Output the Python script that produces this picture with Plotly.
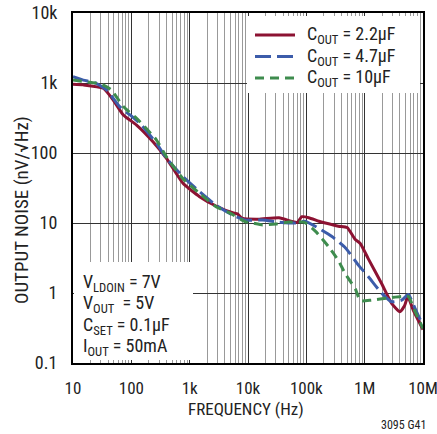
import plotly.graph_objects as go

# ---- data ----
f_22 = [10, 15, 33, 49, 73, 123, 235, 400, 767, 1480, 2830, 5460, 6600, 7900, 15000, 34000,
        57000, 70000, 84000, 110000, 164000, 212000, 355000, 500000, 690000, 840000,
        1150000, 1940000, 2900000, 4000000, 4800000, 5500000, 6800000, 10000000]
n_22 = [960, 940, 840, 571, 349, 251, 145, 84, 37, 23.8, 17.5, 14, 13.5, 11.7, 11.3, 11.9,
        10.5, 10.2, 12.3, 11.9, 10.6, 10.0, 9.0, 8.6, 5.8, 5.1,
        3.1, 1.38, 0.71, 0.54, 0.65, 0.89, 0.57, 0.3]

f_47 = [10, 15, 25, 38, 63, 95, 141, 270, 400, 767, 1480, 2830, 5460, 9100, 17700, 34000,
        65000, 95000, 163000, 275000, 470000, 780000, 1150000, 1940000, 2900000, 4300000,
        5600000, 7200000, 10000000]
n_47 = [1230, 1100, 990, 790, 460, 350, 263, 137, 84, 46, 28, 18, 13, 11, 11, 10.3,
        10.0, 10.6, 8.4, 6.4, 4.4, 2.5, 1.72, 1.0, 0.75, 0.79,
        0.95, 0.62, 0.34]

f_10 = [10, 13, 30, 45, 73, 123, 270, 400, 767, 1480, 2830, 5000, 9100, 12000, 17700, 30000,
        50000, 91000, 144000, 240000, 355000, 470000, 690000, 840000, 1300000, 2600000,
        4300000, 5600000, 7200000, 10000000]
n_10 = [1100, 1070, 970, 800, 460, 313, 153, 88, 43, 26.5, 17.1, 13.7, 10.4, 10, 9.4, 9.7,
        10.3, 10.3, 7.6, 4.6, 2.9, 1.85, 1.15, 0.78, 0.79, 0.85,
        0.89, 0.89, 0.56, 0.31]

series_names = ["C<sub>OUT</sub> = 2.2µF", "C<sub>OUT</sub> = 4.7µF", "C<sub>OUT</sub> = 10µF"]

x_tickvals = [10, 100, 1e3, 1e4, 1e5, 1e6, 1e7]
x_ticktext = ["10", "100", "1k", "10k", "100k", "1M", "10M"]
y_tickvals = [0.1, 1, 10, 100, 1000, 10000]
y_ticktext = ["0.1", "1", "10", "100", "1k", "10k"]

cond_lines = ["V<sub>LDOIN</sub> = 7V", "V<sub>OUT</sub>\u00a0 = 5V",
              "C<sub>SET</sub> = 0.1µF", "I<sub>OUT</sub> = 50mA"]

FONT = "Roboto Condensed, Liberation Sans, Arial, sans-serif"
TXT = "#222"
RED, BLUE, GREEN = "#8C1232", "#3C5CAA", "#3E8C4E"
colors = [RED, BLUE, GREEN]
dashes = ["solid", "16px,6px", "9px,6px"]

fig = go.Figure()
for fx, ny, nm, c, d in zip([f_22, f_47, f_10], [n_22, n_47, n_10], series_names, colors, dashes):
    fig.add_trace(go.Scatter(x=fx, y=ny, mode="lines", name=nm, showlegend=False,
                             line=dict(color=c, width=3, dash=d, shape="spline", smoothing=0.5)))

L, R, T, B = 73, 14, 13, 71
W, H = 437, 434
pw, ph = W - L - R, H - T - B

def px(x):
    return (x - L) / pw

def py(y):
    return (H - B - y) / ph

# legend box (drawn manually for exact placement)
fig.add_shape(type="rect", xref="paper", yref="paper", x0=px(247), x1=px(420), y0=py(93), y1=py(16),
              fillcolor="white", line=dict(width=0), layer="above")
for i, (nm, c, d) in enumerate(zip(series_names, colors, dashes)):
    yy = py(35 + i * 21.5)
    fig.add_shape(type="line", xref="paper", yref="paper", x0=px(255), x1=px(295), y0=yy, y1=yy,
                  line=dict(color=c, width=3, dash=d), layer="above")
    fig.add_annotation(text=nm, xref="paper", yref="paper", x=px(305), y=yy,
                       xanchor="left", yanchor="middle", showarrow=False,
                       font=dict(family=FONT, size=18, color=TXT))

# conditions box
fig.add_shape(type="rect", xref="paper", yref="paper", x0=px(74), x1=px(193), y0=py(360), y1=py(262),
              fillcolor="white", line=dict(width=0), layer="above")
for i, t in enumerate(cond_lines):
    fig.add_annotation(text=t, xref="paper", yref="paper", x=px(81), y=py(283 + i * 21.3),
                       xanchor="left", yanchor="middle", showarrow=False,
                       font=dict(family=FONT, size=18, color=TXT))

fig.add_annotation(text="OUTPUT NOISE (nV/√Hz)", xref="paper", yref="paper", x=px(21), y=py(210),
                   textangle=-90, xanchor="center", yanchor="middle", showarrow=False,
                   font=dict(family=FONT, size=19, color=TXT))
fig.add_annotation(text="FREQUENCY (Hz)", xref="paper", yref="paper", x=px(246), y=py(409),
                   xanchor="center", yanchor="middle", showarrow=False,
                   font=dict(family=FONT, size=17, color=TXT))
fig.add_annotation(text="3095 G41", xref="paper", yref="paper", x=px(403), y=py(425),
                   xanchor="center", yanchor="middle", showarrow=False,
                   font=dict(family=FONT, size=12, color=TXT))

fig.update_layout(
    width=W, height=H,
    margin=dict(l=L, r=R, t=T, b=B, pad=0, autoexpand=False),
    paper_bgcolor="white", plot_bgcolor="white",
    font=dict(family=FONT, size=18, color=TXT),
    showlegend=False,
)
fig.update_xaxes(type="log", range=[1, 7], tickvals=x_tickvals, ticktext=x_ticktext,
                 tickfont=dict(family=FONT, size=17, color=TXT), ticklabeloverflow="allow",
                 automargin=False,
                 showgrid=True, gridcolor="#333", gridwidth=1.2,
                 minor=dict(dtick="D1", showgrid=True, gridcolor="#999", gridwidth=1.2, ticks=""),
                 showline=True, linecolor="black", linewidth=2, mirror=True,
                 ticks="", ticklabelstandoff=9, zeroline=False)
fig.update_yaxes(type="log", range=[-1, 4], tickvals=y_tickvals, ticktext=y_ticktext,
                 tickfont=dict(family=FONT, size=18, color=TXT), automargin=False,
                 showgrid=True, gridcolor="#333", gridwidth=1.2,
                 showline=True, linecolor="black", linewidth=2, mirror=True,
                 ticks="", ticklabelstandoff=10, zeroline=False)

fig.write_html("out.html", config={"displayModeBar": False},
               post_script="document.body.style.margin='0';")
